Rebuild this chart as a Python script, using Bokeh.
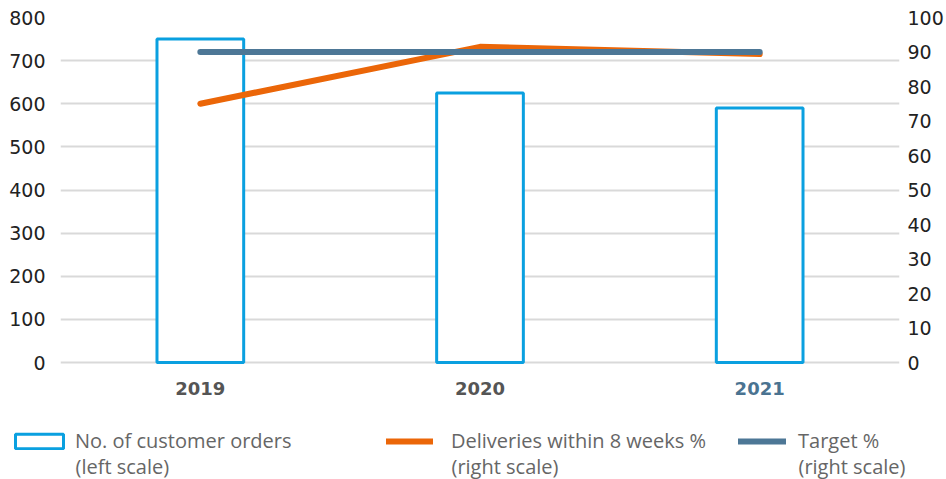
from bokeh.plotting import figure
from bokeh.models import (FactorRange, Range1d, LinearAxis, FixedTicker, Legend, LegendItem,
                          LabelSet, ColumnDataSource)
from bokeh.core.properties import value
from bokeh.layouts import column
from bokeh.embed import file_html
from bokeh.resources import INLINE

categories = ["2019", "2020", "2021"]
orders = [750, 625, 590]
deliveries_pct = [75, 91.5, 89.4]
target_pct = [90, 90, 90]
left_ticks = [0, 100, 200, 300, 400, 500, 600, 700, 800]
right_ticks = [0, 10, 20, 30, 40, 50, 60, 70, 80, 90, 100]
cat_colors = ["#555555", "#555555", "#4a7391"]
legend_line1 = ["No. of customer orders", "Deliveries within 8 weeks %", "Target %"]
legend_line2 = ["(left scale)", "(right scale)", "(right scale)"]

BLUE = "#0aa0e0"
ORANGE = "#eb6608"
SLATE = "#4d7796"
TICKFONT = "DejaVu Sans"
LEGFONT = "Open Sans"
LEGCOLOR = "#666666"

W = 946
TOP_H = 410
LEG_H = 479 - TOP_H
PLOT_TOP, ZERO_Y = 17, 362          # pixel rows of the 800 gridline and the 0 line
LEFT_MAX, RIGHT_MAX = 800, 100
units_per_px = LEFT_MAX / (ZERO_Y - PLOT_TOP)
left_min = -(TOP_H - ZERO_Y) * units_per_px
right_min = left_min * RIGHT_MAX / LEFT_MAX

p = figure(x_range=FactorRange(factors=categories, range_padding=0),
           y_range=Range1d(left_min, LEFT_MAX), width=W, height=TOP_H,
           output_backend="svg", toolbar_location=None,
           min_border_left=60, min_border_right=40, min_border_top=PLOT_TOP, min_border_bottom=0)
p.frame_align = False
p.outline_line_color = None
p.background_fill_color = "white"
p.border_fill_color = "white"
p.extra_y_ranges = {"right": Range1d(right_min, RIGHT_MAX)}

p.xgrid.grid_line_color = None
p.ygrid.grid_line_color = "#d9d9d9"
p.ygrid.grid_line_width = 2
p.yaxis.ticker = FixedTicker(ticks=left_ticks)

ry = LinearAxis(y_range_name="right", ticker=FixedTicker(ticks=right_ticks))
p.add_layout(ry, "right")

for ax, standoff in [(p.yaxis[0], 9), (ry, 2)]:
    ax.axis_line_color = None
    ax.major_tick_line_color = None
    ax.minor_tick_line_color = None
    ax.major_label_text_font = TICKFONT
    ax.major_label_text_font_size = "19px"
    ax.major_label_text_color = "#222222"
    ax.major_label_standoff = standoff

p.xaxis.visible = False

bars = p.vbar(x=categories, top=orders, width=0.31, bottom=0,
              fill_color="white", line_color=BLUE, line_width=3)
dl = p.line(x=categories, y=deliveries_pct, y_range_name="right",
            line_color=ORANGE, line_width=6, line_cap="round", line_join="round")
tl = p.line(x=categories, y=target_pct, y_range_name="right",
            line_color=SLATE, line_width=6, line_cap="round", line_join="round")

src = ColumnDataSource(dict(x=categories, text=categories, color=cat_colors))
label_y = -26 * units_per_px
labels = LabelSet(x="x", y=label_y, text="text", source=src,
                  text_color="color", text_font=value(TICKFONT), text_font_style="bold",
                  text_font_size="18px", text_align="center", text_baseline="middle")
p.add_layout(labels)

# legend strip (its own frame spans the full width)
q = figure(x_range=Range1d(0, W), y_range=Range1d(0, LEG_H), width=W, height=LEG_H,
           output_backend="svg", toolbar_location=None,
           min_border_left=0, min_border_right=0, min_border_top=0, min_border_bottom=0)
q.frame_align = False
q.axis.visible = False
q.grid.visible = False
q.outline_line_color = None
q.background_fill_color = "white"
q.border_fill_color = "white"

# legend-only proxies (hidden), carrying the same styles as the chart marks
lb = q.vbar(x=[0], top=[1], width=1, bottom=0, fill_color="white", line_color=BLUE,
            line_width=3, visible=False)
ll1 = q.line(x=[0, 1], y=[0, 0], line_color=ORANGE, line_width=6, line_cap="round", visible=False)
ll2 = q.line(x=[0, 1], y=[0, 0], line_color=SLATE, line_width=6, line_cap="round", visible=False)

LEG_Y = 25
def mk_legend(label, r, x, gw, gh, standoff):
    lg = Legend(items=[LegendItem(label=label, renderers=[r])], location=(x, LEG_Y),
                orientation="vertical", padding=0, margin=0, border_line_color=None,
                background_fill_alpha=0, glyph_width=gw, glyph_height=gh,
                label_text_font=LEGFONT, label_text_font_size="20px",
                label_text_color=LEGCOLOR, label_standoff=standoff,
                label_text_line_height=1.25, label_text_baseline="middle",
                inactive_fill_alpha=0, click_policy="none")
    q.add_layout(lg, "center")

mk_legend(legend_line1[0], lb, 9, 60, 18, 6)
mk_legend(legend_line1[1], ll1, 386, 47, 18, 18)
mk_legend(legend_line1[2], ll2, 738, 48, 18, 12)

src2 = ColumnDataSource(dict(x=[75, 451, 798], text=legend_line2))
sub = LabelSet(x="x", y=13, text="text", source=src2, text_color=LEGCOLOR,
               text_font=value(LEGFONT), text_font_size="20px",
               text_align="left", text_baseline="middle")
q.add_layout(sub)

open("out.html", "w").write(file_html(column(p, q, spacing=0), INLINE))
